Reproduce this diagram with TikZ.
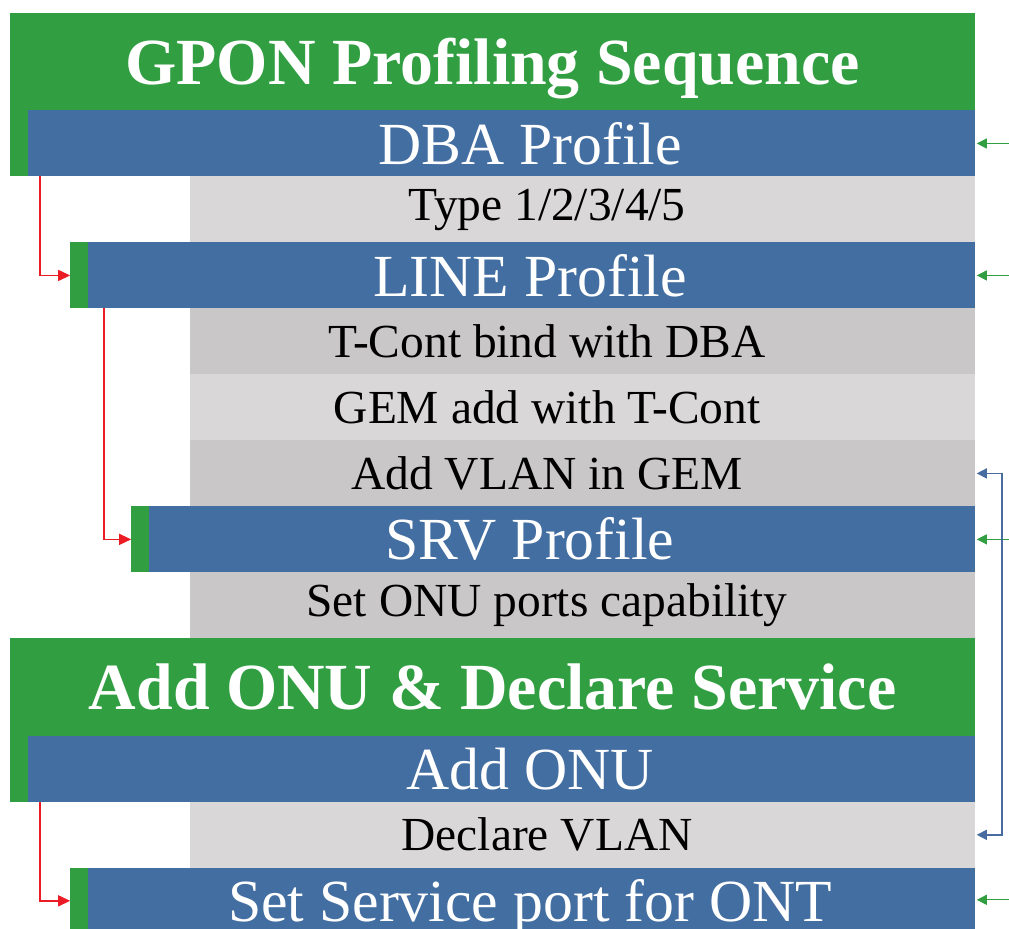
\documentclass[tikz,border=0pt]{standalone}
\usepackage{fontspec}
\setmainfont{Liberation Serif}
\usetikzlibrary{arrows.meta,positioning}
\definecolor{bargreen}{RGB}{49,158,66}
\definecolor{barblue}{RGB}{67,110,161}
\definecolor{greyA}{RGB}{217,215,216}
\definecolor{greyB}{RGB}{201,199,200}
\definecolor{arrred}{RGB}{236,28,36}
\definecolor{arrblue}{RGB}{72,108,160}

\begin{document}
\begin{tikzpicture}[x=0.02cm,y=-0.02cm,
    titlebar/.style={fill=bargreen,minimum width=19.3cm,minimum height=1.95cm,inner sep=0pt,outer sep=0pt,
      text=white,text height=25.5pt,text depth=0pt,font=\fontsize{37.5}{40}\selectfont\bfseries},
    bluebar/.style={fill=barblue,minimum width=#1,minimum height=1.32cm,inner sep=0pt,outer sep=0pt},
    greybar/.style={fill=#1,minimum width=15.7cm,minimum height=1.32cm,inner sep=0pt,outer sep=0pt},
    strip/.style={fill=bargreen,minimum width=0.36cm,minimum height=1.32cm,inner sep=0pt,outer sep=0pt},
    under/.style={below=0pt of #1.south east,anchor=north east},
    btxt/.style={text=white,font=\fontsize{34}{36}\selectfont},
    gtxt/.style={text=black,font=\fontsize{27}{30}\selectfont},
    redarr/.style={draw=arrred,line width=0.8pt,-{Triangle[length=0.24cm,width=0.22cm]}},
    greenarr/.style={draw=bargreen,line width=0.5pt,shorten >=1pt,-{Triangle[length=0.2cm,width=0.2cm]}},
    bluearr/.style={draw=arrblue,line width=0.8pt,shorten <=1pt,shorten >=1pt,
      {Triangle[length=0.2cm,width=0.2cm]}-{Triangle[length=0.2cm,width=0.2cm]}},
  ]
  \useasboundingbox (0,0) rectangle (1009,929);
  % bars
  \node[titlebar,anchor=north east] (gpon) at (975,13) {GPON Profiling Sequence};
  \node[bluebar=18.94cm,under=gpon] (dba) {};
  \node[greybar=greyA,under=dba] (type) {};
  \node[bluebar=17.74cm,under=type] (line) {};
  \node[greybar=greyB,under=line] (tcont) {};
  \node[greybar=greyA,under=tcont] (gem) {};
  \node[greybar=greyB,under=gem] (vlan) {};
  \node[bluebar=16.52cm,under=vlan] (srv) {};
  \node[greybar=greyB,under=srv] (ports) {};
  \node[titlebar,under=ports] (onu) {Add ONU \& Declare Service};
  \node[bluebar=18.94cm,under=onu] (addonu) {};
  \node[greybar=greyA,under=addonu] (declare) {};
  \node[bluebar=17.74cm,minimum height=1.56cm,under=declare] (svc) {};
  % green strips
  \node[strip,left=0pt of dba] (dbag) {};
  \node[strip,left=0pt of line] (lineg) {};
  \node[strip,left=0pt of srv] (srvg) {};
  \node[strip,left=0pt of addonu] (addonug) {};
  \node[strip,minimum height=1.56cm,left=0pt of svc] (svcg) {};
  % texts
  \coordinate (bx) at (530,0);
  \coordinate (gx) at (547,0);
  \node[btxt] (dbat) at (dba -| bx) {DBA Profile};
  \node[gtxt] (typet) at (type -| gx) {Type 1/2/3/4/5};
  \node[btxt] (linet) at (line -| bx) {LINE Profile};
  \node[gtxt] (tcontt) at (tcont -| gx) {T-Cont bind with DBA};
  \node[gtxt] (gemt) at (gem -| gx) {GEM add with T-Cont};
  \node[gtxt] (vlant) at (vlan -| gx) {Add VLAN in GEM};
  \node[btxt] (srvt) at (srv -| bx) {SRV Profile};
  \node[gtxt] (portst) at (ports -| gx) {Set ONU ports capability};
  \node[btxt] (addonut) at (addonu -| bx) {Add ONU};
  \node[gtxt] (declaret) at (declare -| gx) {Declare VLAN};
  \node[btxt] (svct) at (svc -| bx) {Set Service port for ONT};
  % red steps
  \draw[redarr] ([xshift=0.24cm]dba.south west) |- (lineg.west);
  \draw[redarr] ([xshift=0.32cm]line.south west) |- (srvg.west);
  \draw[redarr] ([xshift=0.24cm]addonu.south west) |- ([yshift=0.12cm]svcg.west);
  % right side
  \coordinate (edge) at (1009,0);
  \foreach \b in {dba,line,srv}
    \draw[greenarr] (\b.east -| edge) -- (\b.east);
  \draw[greenarr] ([yshift=0.14cm]svc.east -| edge) -- ([yshift=0.14cm]svc.east);
  \draw[bluearr] (declare.east) -- ++(27,0) |- (vlan.east);
\end{tikzpicture}
\end{document}
